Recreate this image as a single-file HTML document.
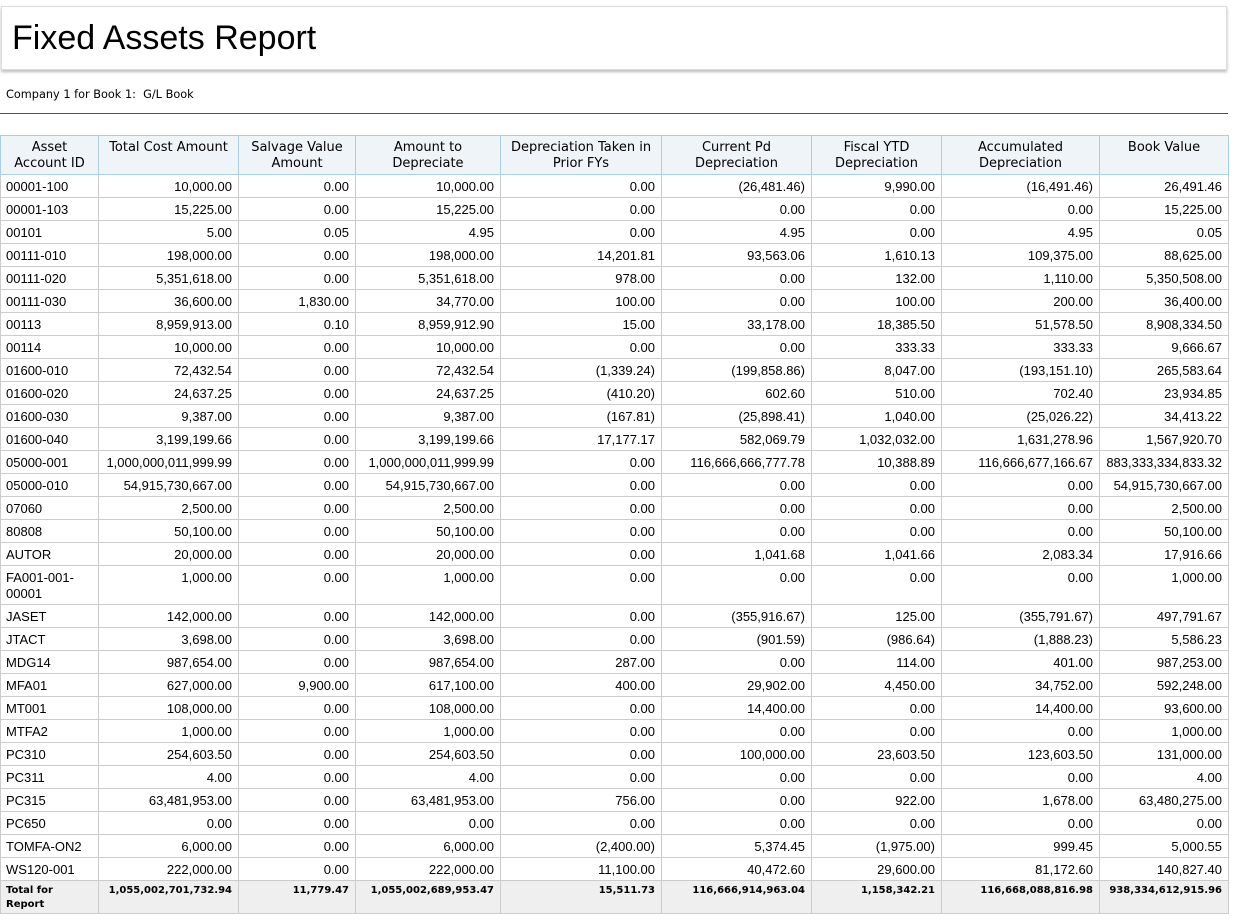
<!DOCTYPE html>
<html><head><meta charset="utf-8"><style>
body{margin:0;background:#fff;width:1235px;height:923px;overflow:hidden;font-family:"Liberation Sans",Arial,sans-serif;}
.title{position:absolute;left:1px;top:6px;width:1224px;height:62px;border:1px solid #ddd;box-shadow:0 2px 3px #bbb;background:#fff;}
.title span{position:absolute;left:10px;top:12px;font-size:34px;color:#000;}
.sub{position:absolute;left:6px;top:88px;font-family:"DejaVu Sans",Verdana,sans-serif;font-size:11.3px;}
.line{position:absolute;left:0;top:113px;width:1228px;height:1px;background:#2c5a73;}
table{position:absolute;left:0;top:135px;border-collapse:collapse;table-layout:fixed;width:1229px;}
td,th{border:1px solid #ccc;font-size:13px;padding:0 6px 0 5px;text-align:right;white-space:nowrap;height:22px;vertical-align:middle;overflow:hidden;}
th{font-family:"DejaVu Sans",Verdana,sans-serif;font-weight:normal;font-size:13px;background:#eef4f8;border:1px solid #a9cfe3;text-align:center;height:34px;vertical-align:top;padding:4px 3px 0 3px;line-height:16px;white-space:normal;}
td:first-child{text-align:left;}
tr.dbl td{height:34px;vertical-align:top;padding-top:4px;line-height:16px;}
tr.tot td{background:#efefef;font-family:"DejaVu Sans",Verdana,sans-serif;font-weight:bold;font-size:10px;height:29px;vertical-align:top;padding-top:3px;line-height:14px;}
</style></head><body>
<div class="title"><span>Fixed Assets Report</span></div>
<div class="sub">Company 1 for Book 1:&nbsp; G/L Book</div>
<div class="line"></div>
<table>
<colgroup><col style="width:98px"><col style="width:140px"><col style="width:117px"><col style="width:145px"><col style="width:161px"><col style="width:150px"><col style="width:130px"><col style="width:158px"><col style="width:129px"></colgroup>
<tr><th>Asset Account ID</th><th>Total Cost Amount</th><th>Salvage Value Amount</th><th>Amount to Depreciate</th><th>Depreciation Taken in Prior FYs</th><th>Current Pd Depreciation</th><th>Fiscal YTD Depreciation</th><th>Accumulated Depreciation</th><th>Book Value</th></tr>
<tr><td>00001-100</td><td>10,000.00</td><td>0.00</td><td>10,000.00</td><td>0.00</td><td>(26,481.46)</td><td>9,990.00</td><td>(16,491.46)</td><td>26,491.46</td></tr>
<tr><td>00001-103</td><td>15,225.00</td><td>0.00</td><td>15,225.00</td><td>0.00</td><td>0.00</td><td>0.00</td><td>0.00</td><td>15,225.00</td></tr>
<tr><td>00101</td><td>5.00</td><td>0.05</td><td>4.95</td><td>0.00</td><td>4.95</td><td>0.00</td><td>4.95</td><td>0.05</td></tr>
<tr><td>00111-010</td><td>198,000.00</td><td>0.00</td><td>198,000.00</td><td>14,201.81</td><td>93,563.06</td><td>1,610.13</td><td>109,375.00</td><td>88,625.00</td></tr>
<tr><td>00111-020</td><td>5,351,618.00</td><td>0.00</td><td>5,351,618.00</td><td>978.00</td><td>0.00</td><td>132.00</td><td>1,110.00</td><td>5,350,508.00</td></tr>
<tr><td>00111-030</td><td>36,600.00</td><td>1,830.00</td><td>34,770.00</td><td>100.00</td><td>0.00</td><td>100.00</td><td>200.00</td><td>36,400.00</td></tr>
<tr><td>00113</td><td>8,959,913.00</td><td>0.10</td><td>8,959,912.90</td><td>15.00</td><td>33,178.00</td><td>18,385.50</td><td>51,578.50</td><td>8,908,334.50</td></tr>
<tr><td>00114</td><td>10,000.00</td><td>0.00</td><td>10,000.00</td><td>0.00</td><td>0.00</td><td>333.33</td><td>333.33</td><td>9,666.67</td></tr>
<tr><td>01600-010</td><td>72,432.54</td><td>0.00</td><td>72,432.54</td><td>(1,339.24)</td><td>(199,858.86)</td><td>8,047.00</td><td>(193,151.10)</td><td>265,583.64</td></tr>
<tr><td>01600-020</td><td>24,637.25</td><td>0.00</td><td>24,637.25</td><td>(410.20)</td><td>602.60</td><td>510.00</td><td>702.40</td><td>23,934.85</td></tr>
<tr><td>01600-030</td><td>9,387.00</td><td>0.00</td><td>9,387.00</td><td>(167.81)</td><td>(25,898.41)</td><td>1,040.00</td><td>(25,026.22)</td><td>34,413.22</td></tr>
<tr><td>01600-040</td><td>3,199,199.66</td><td>0.00</td><td>3,199,199.66</td><td>17,177.17</td><td>582,069.79</td><td>1,032,032.00</td><td>1,631,278.96</td><td>1,567,920.70</td></tr>
<tr><td>05000-001</td><td>1,000,000,011,999.99</td><td>0.00</td><td>1,000,000,011,999.99</td><td>0.00</td><td>116,666,666,777.78</td><td>10,388.89</td><td>116,666,677,166.67</td><td>883,333,334,833.32</td></tr>
<tr><td>05000-010</td><td>54,915,730,667.00</td><td>0.00</td><td>54,915,730,667.00</td><td>0.00</td><td>0.00</td><td>0.00</td><td>0.00</td><td>54,915,730,667.00</td></tr>
<tr><td>07060</td><td>2,500.00</td><td>0.00</td><td>2,500.00</td><td>0.00</td><td>0.00</td><td>0.00</td><td>0.00</td><td>2,500.00</td></tr>
<tr><td>80808</td><td>50,100.00</td><td>0.00</td><td>50,100.00</td><td>0.00</td><td>0.00</td><td>0.00</td><td>0.00</td><td>50,100.00</td></tr>
<tr><td>AUTOR</td><td>20,000.00</td><td>0.00</td><td>20,000.00</td><td>0.00</td><td>1,041.68</td><td>1,041.66</td><td>2,083.34</td><td>17,916.66</td></tr>
<tr class="dbl"><td>FA001-001-<br>00001</td><td>1,000.00</td><td>0.00</td><td>1,000.00</td><td>0.00</td><td>0.00</td><td>0.00</td><td>0.00</td><td>1,000.00</td></tr>
<tr><td>JASET</td><td>142,000.00</td><td>0.00</td><td>142,000.00</td><td>0.00</td><td>(355,916.67)</td><td>125.00</td><td>(355,791.67)</td><td>497,791.67</td></tr>
<tr><td>JTACT</td><td>3,698.00</td><td>0.00</td><td>3,698.00</td><td>0.00</td><td>(901.59)</td><td>(986.64)</td><td>(1,888.23)</td><td>5,586.23</td></tr>
<tr><td>MDG14</td><td>987,654.00</td><td>0.00</td><td>987,654.00</td><td>287.00</td><td>0.00</td><td>114.00</td><td>401.00</td><td>987,253.00</td></tr>
<tr><td>MFA01</td><td>627,000.00</td><td>9,900.00</td><td>617,100.00</td><td>400.00</td><td>29,902.00</td><td>4,450.00</td><td>34,752.00</td><td>592,248.00</td></tr>
<tr><td>MT001</td><td>108,000.00</td><td>0.00</td><td>108,000.00</td><td>0.00</td><td>14,400.00</td><td>0.00</td><td>14,400.00</td><td>93,600.00</td></tr>
<tr><td>MTFA2</td><td>1,000.00</td><td>0.00</td><td>1,000.00</td><td>0.00</td><td>0.00</td><td>0.00</td><td>0.00</td><td>1,000.00</td></tr>
<tr><td>PC310</td><td>254,603.50</td><td>0.00</td><td>254,603.50</td><td>0.00</td><td>100,000.00</td><td>23,603.50</td><td>123,603.50</td><td>131,000.00</td></tr>
<tr><td>PC311</td><td>4.00</td><td>0.00</td><td>4.00</td><td>0.00</td><td>0.00</td><td>0.00</td><td>0.00</td><td>4.00</td></tr>
<tr><td>PC315</td><td>63,481,953.00</td><td>0.00</td><td>63,481,953.00</td><td>756.00</td><td>0.00</td><td>922.00</td><td>1,678.00</td><td>63,480,275.00</td></tr>
<tr><td>PC650</td><td>0.00</td><td>0.00</td><td>0.00</td><td>0.00</td><td>0.00</td><td>0.00</td><td>0.00</td><td>0.00</td></tr>
<tr><td>TOMFA-ON2</td><td>6,000.00</td><td>0.00</td><td>6,000.00</td><td>(2,400.00)</td><td>5,374.45</td><td>(1,975.00)</td><td>999.45</td><td>5,000.55</td></tr>
<tr><td>WS120-001</td><td>222,000.00</td><td>0.00</td><td>222,000.00</td><td>11,100.00</td><td>40,472.60</td><td>29,600.00</td><td>81,172.60</td><td>140,827.40</td></tr>
<tr class="tot"><td>Total for<br>Report</td><td>1,055,002,701,732.94</td><td>11,779.47</td><td>1,055,002,689,953.47</td><td>15,511.73</td><td>116,666,914,963.04</td><td>1,158,342.21</td><td>116,668,088,816.98</td><td>938,334,612,915.96</td></tr>
</table>
</body></html>
